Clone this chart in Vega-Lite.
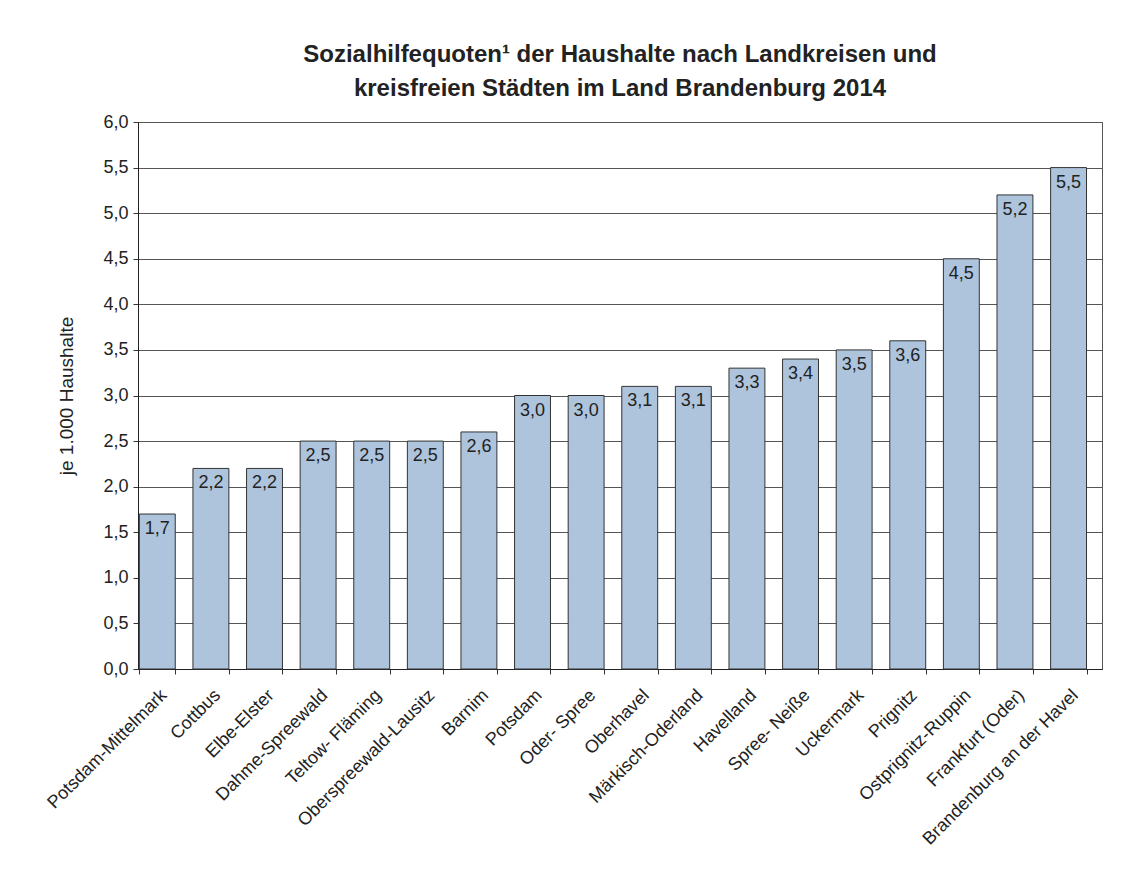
{
  "$schema": "https://vega.github.io/schema/vega-lite/v6.json",
  "autosize": "none",
  "width": 964,
  "height": 547,
  "padding": {"left": 138, "top": 122, "right": 26, "bottom": 204},
  "background": "white",
  "title": {
    "text": ["Sozialhilfequoten¹ der Haushalte nach Landkreisen und", "kreisfreien Städten im Land Brandenburg 2014"],
    "font": "Liberation Sans",
    "fontSize": 24,
    "fontWeight": "bold",
    "color": "#222222",
    "anchor": "middle",
    "lineHeight": 34,
    "offset": 12
  },
  "data": {
    "values": [
      {"kreis": "Potsdam-Mittelmark", "quote": 1.7},
      {"kreis": "Cottbus", "quote": 2.2},
      {"kreis": "Elbe-Elster", "quote": 2.2},
      {"kreis": "Dahme-Spreewald", "quote": 2.5},
      {"kreis": "Teltow- Fläming", "quote": 2.5},
      {"kreis": "Oberspreewald-Lausitz", "quote": 2.5},
      {"kreis": "Barnim", "quote": 2.6},
      {"kreis": "Potsdam", "quote": 3.0},
      {"kreis": "Oder- Spree", "quote": 3.0},
      {"kreis": "Oberhavel", "quote": 3.1},
      {"kreis": "Märkisch-Oderland", "quote": 3.1},
      {"kreis": "Havelland", "quote": 3.3},
      {"kreis": "Spree- Neiße", "quote": 3.4},
      {"kreis": "Uckermark", "quote": 3.5},
      {"kreis": "Prignitz", "quote": 3.6},
      {"kreis": "Ostprignitz-Ruppin", "quote": 4.5},
      {"kreis": "Frankfurt (Oder)", "quote": 5.2},
      {"kreis": "Brandenburg an der Havel", "quote": 5.5}
    ]
  },
  "encoding": {
    "x": {
      "field": "kreis",
      "type": "nominal",
      "sort": null,
      "scale": {"paddingInner": 0.33, "paddingOuter": 0.157, "align": 0.08},
      "axis": {
        "title": null,
        "labelAngle": -45,
        "labelFont": "Liberation Sans",
        "labelFontSize": 18,
        "labelColor": "#222222",
        "labelPadding": 12,
        "labelLimit": 500,
        "tickBand": "extent",
        "tickSize": 5,
        "tickColor": "#333333",
        "domainColor": "#222222",
        "grid": false
      }
    },
    "y": {
      "field": "quote",
      "type": "quantitative",
      "scale": {"domain": [0, 6], "nice": false},
      "axis": {
        "title": "je 1.000 Haushalte",
        "titleFont": "Liberation Sans",
        "titleFontSize": 19,
        "titleFontWeight": "normal",
        "titleColor": "#222222",
        "titlePadding": 26,
        "values": [0, 0.5, 1, 1.5, 2, 2.5, 3, 3.5, 4, 4.5, 5, 5.5, 6],
        "format": ".1f",
        "labelFont": "Liberation Sans",
        "labelFontSize": 18,
        "labelColor": "#222222",
        "labelPadding": 5,
        "tickSize": 5,
        "tickColor": "#333333",
        "domainColor": "#222222",
        "grid": true,
        "gridColor": "#555555",
        "gridWidth": 1
      }
    }
  },
  "layer": [
    {
      "mark": {"type": "bar", "fill": "#adc4dc", "stroke": "#333333", "strokeWidth": 1}
    },
    {
      "mark": {"type": "text", "baseline": "top", "dy": 6, "font": "Liberation Sans", "fontSize": 18, "color": "#222222"},
      "encoding": {
        "text": {"field": "quote", "type": "quantitative", "format": ".1f"}
      }
    }
  ],
  "config": {
    "locale": {
      "number": {"decimal": ",", "thousands": ".", "grouping": [3], "currency": ["", " €"]}
    },
    "view": {"stroke": "#555555", "strokeWidth": 1}
  }
}
